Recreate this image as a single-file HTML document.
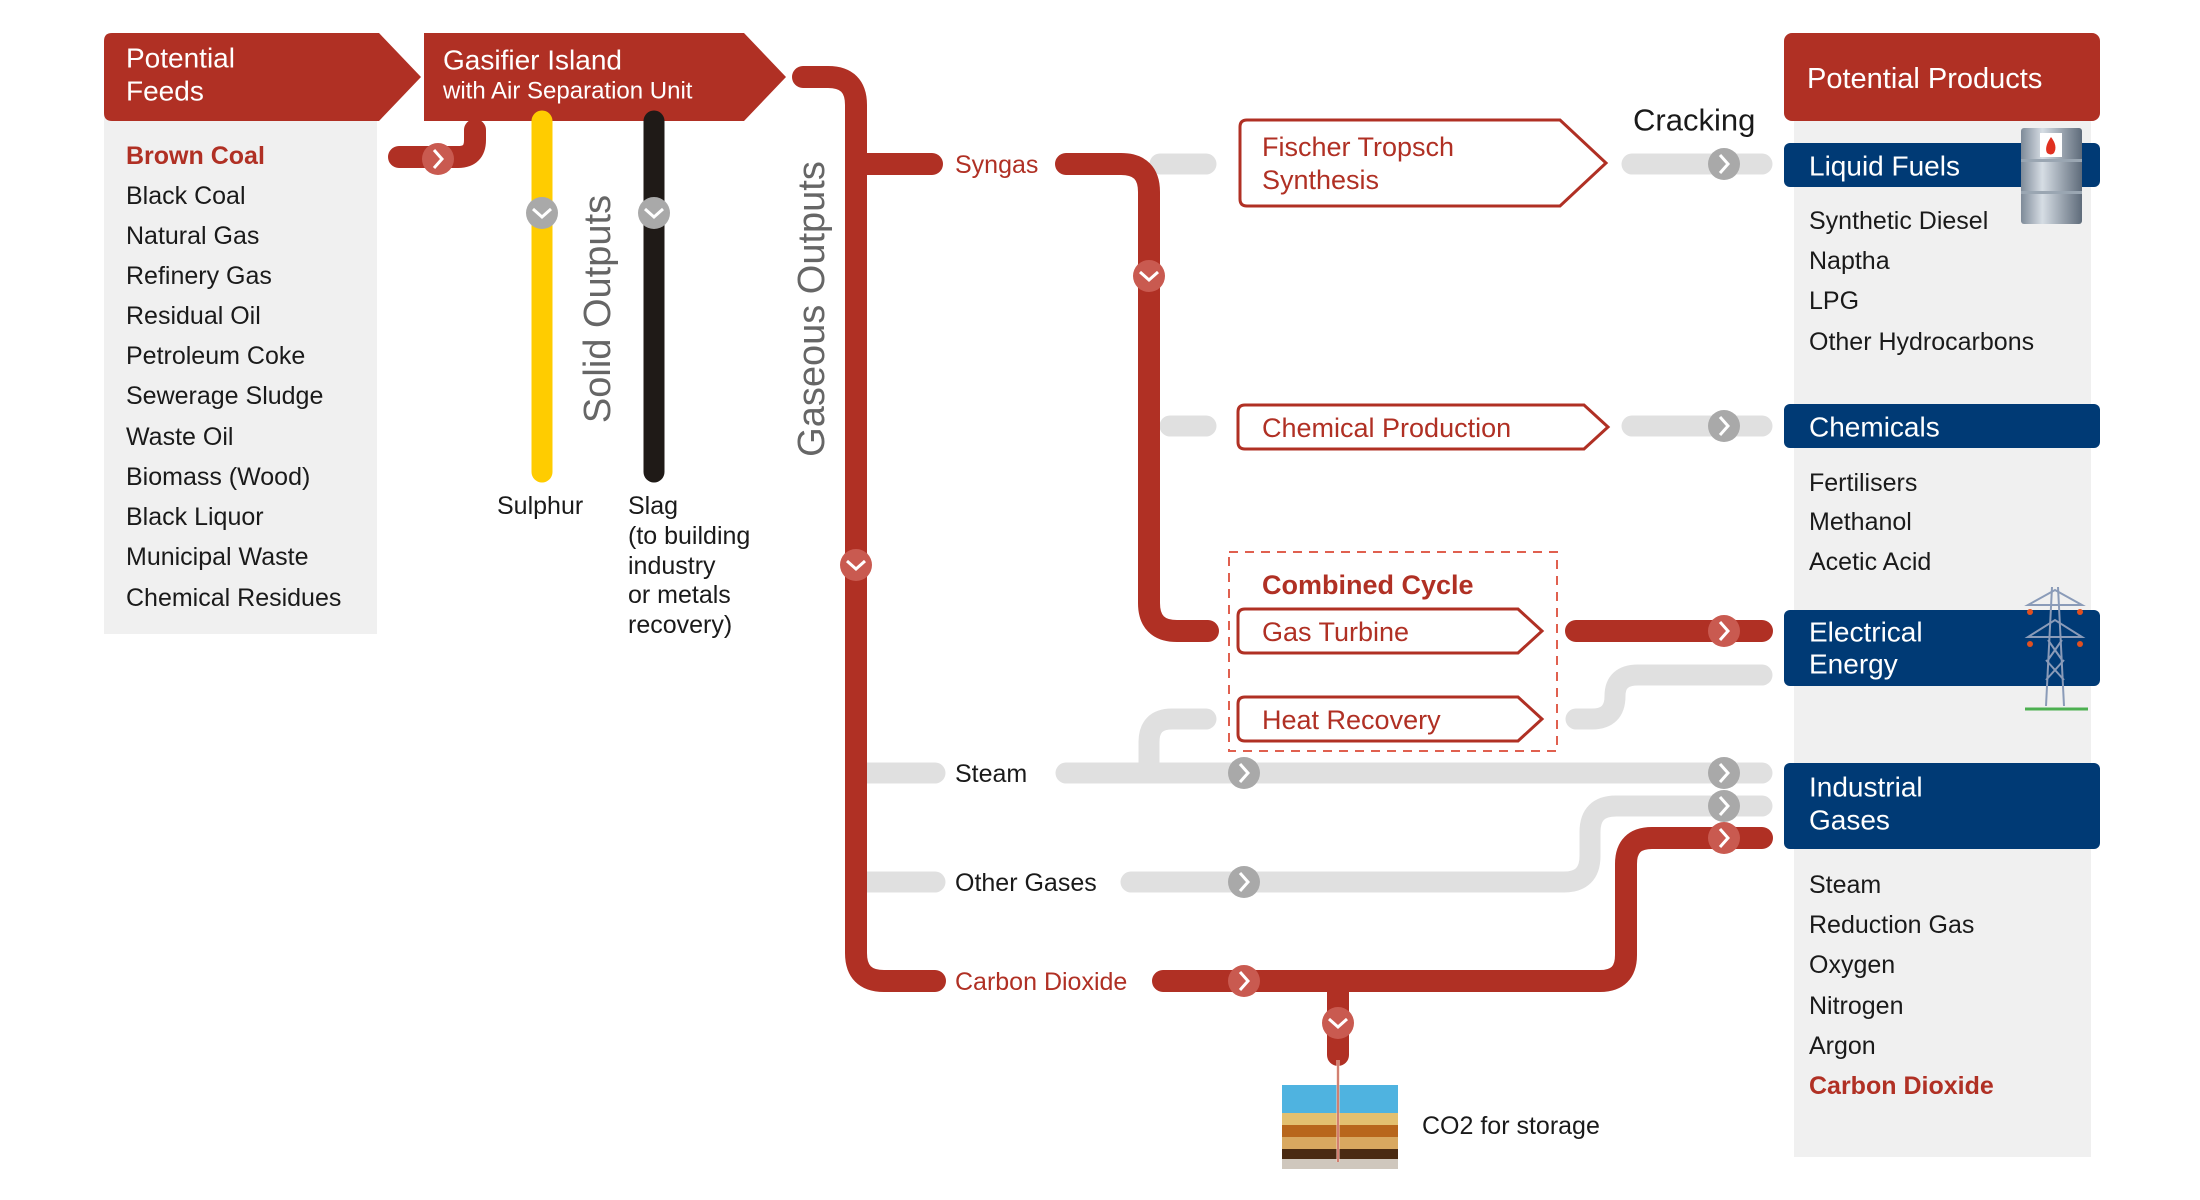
<!DOCTYPE html>
<html><head><meta charset="utf-8"><style>
html,body{margin:0;padding:0;background:#fff}
svg{display:block}
text{font-family:"Liberation Sans",sans-serif;dominant-baseline:central}
</style></head><body>
<svg width="2200" height="1200" viewBox="0 0 2200 1200" xmlns="http://www.w3.org/2000/svg">
<defs>
<linearGradient id="barrel" x1="0" x2="1" y1="0" y2="0">
<stop offset="0" stop-color="#7e8a98"/><stop offset="0.35" stop-color="#d6dde4"/><stop offset="1" stop-color="#5e6b7a"/>
</linearGradient>
<g id="mr"><circle r="16" fill="#c95a50"/><path d="M-4,-9 L4,0 L-4,9" fill="none" stroke="#fff" stroke-width="3"/></g>
<g id="mg"><circle r="16" fill="#a9a9a9"/><path d="M-4,-9 L4,0 L-4,9" fill="none" stroke="#fff" stroke-width="3"/></g>
<g id="mrd"><circle r="16" fill="#c95a50"/><path d="M-9,-4 L0,4 L9,-4" fill="none" stroke="#fff" stroke-width="3"/></g>
<g id="mgd"><circle r="16" fill="#a9a9a9"/><path d="M-9,-4 L0,4 L9,-4" fill="none" stroke="#fff" stroke-width="3"/></g>
</defs>

<!-- panels -->
<rect x="104" y="115" width="273" height="519" fill="#f0f0f0"/>
<rect x="1794" y="115" width="297" height="1042" fill="#f0f0f0"/>

<!-- headers -->
<path d="M112,33 H379 L421,77 L379,121 H112 Q104,121 104,113 V41 Q104,33 112,33 Z" fill="#b03024"/>
<text x="126" y="58" font-size="28" fill="#fff">Potential</text>
<text x="126" y="91" font-size="28" fill="#fff">Feeds</text>
<path d="M424,33 H744 L786,77 L744,121 H424 Z" fill="#b03024"/>
<text x="443" y="60" font-size="28" fill="#fff">Gasifier Island</text>
<text x="443" y="91" font-size="24" fill="#fff">with Air Separation Unit</text>
<rect x="1784" y="33" width="316" height="88" rx="8" fill="#b03024"/>
<text x="1807" y="79" font-size="29" fill="#fff">Potential Products</text>

<!-- feeds -->
<g font-size="25" fill="#1a1a1a">
<text x="126" y="156" fill="#b03024" font-weight="bold">Brown Coal</text>
<text x="126" y="196">Black Coal</text>
<text x="126" y="236">Natural Gas</text>
<text x="126" y="276">Refinery Gas</text>
<text x="126" y="316">Residual Oil</text>
<text x="126" y="356">Petroleum Coke</text>
<text x="126" y="396">Sewerage Sludge</text>
<text x="126" y="437">Waste Oil</text>
<text x="126" y="477">Biomass (Wood)</text>
<text x="126" y="517">Black Liquor</text>
<text x="126" y="557">Municipal Waste</text>
<text x="126" y="598">Chemical Residues</text>
</g>

<!-- brown coal pipe -->
<path d="M399,157 H458 Q475,157 475,140 V130" fill="none" stroke="#b03024" stroke-width="22" stroke-linecap="round"/>
<use href="#mr" x="438" y="159"/>

<!-- solid outputs -->
<path d="M542,121 V472" stroke="#ffcc00" stroke-width="21" stroke-linecap="round"/>
<path d="M654,121 V472" stroke="#1f1a17" stroke-width="21" stroke-linecap="round"/>
<use href="#mgd" x="542" y="213"/>
<use href="#mgd" x="654" y="213"/>
<text transform="translate(598,309) rotate(-90)" text-anchor="middle" font-size="38" fill="#666">Solid Outputs</text>
<text transform="translate(812,309) rotate(-90)" text-anchor="middle" font-size="38" fill="#666">Gaseous Outputs</text>
<text x="497" y="506" font-size="25" fill="#1a1a1a">Sulphur</text>
<g font-size="25" fill="#1a1a1a">
<text x="628" y="506">Slag</text>
<text x="628" y="536">(to building</text>
<text x="628" y="566">industry</text>
<text x="628" y="595">or metals</text>
<text x="628" y="625">recovery)</text>
</g>

<!-- gray pipes -->
<g fill="none" stroke="#e0e0e0" stroke-width="21" stroke-linecap="round">
<path d="M866,773 H935"/>
<path d="M866,882 H935"/>
<path d="M1160,164 H1206"/>
<path d="M1170,426 H1206"/>
<path d="M1632,164 H1762"/>
<path d="M1632,426 H1762"/>
<path d="M1576,719 H1592 Q1615,719 1615,696 Q1615,675 1638,675 H1762"/>
<path d="M1066,773 H1762"/>
<path d="M1149,773 V742 Q1149,719 1172,719 H1206"/>
<path d="M1131,882 H1564 Q1590,882 1590,856 V832 Q1590,806 1616,806 H1762"/>
</g>

<!-- red pipes -->
<g fill="none" stroke="#b03024" stroke-width="22" stroke-linecap="round">
<path d="M803,77 H828 Q856,77 856,105 V953 Q856,981 884,981 H935"/>
<path d="M856,164 H932"/>
<path d="M1066,164 H1121 Q1149,164 1149,192 V603 Q1149,631 1177,631 H1208"/>
<path d="M1576,631 H1762"/>
<path d="M1163,981 H1600 Q1626,981 1626,955 V864 Q1626,838 1652,838 H1762"/>
<path d="M1338,981 V1055"/>
</g>

<!-- markers -->
<use href="#mrd" x="856" y="565"/>
<use href="#mrd" x="1149" y="276"/>
<use href="#mg" x="1724" y="164"/>
<use href="#mg" x="1724" y="426"/>
<use href="#mr" x="1724" y="631"/>
<use href="#mg" x="1244" y="773"/>
<use href="#mg" x="1724" y="773"/>
<use href="#mg" x="1244" y="882"/>
<use href="#mg" x="1724" y="806"/>
<use href="#mr" x="1724" y="838"/>
<use href="#mr" x="1244" y="981"/>
<use href="#mrd" x="1338" y="1023"/>

<!-- gas labels -->
<text x="955" y="165" font-size="25" fill="#b03024">Syngas</text>
<text x="955" y="774" font-size="25" fill="#1a1a1a">Steam</text>
<text x="955" y="883" font-size="25" fill="#1a1a1a">Other Gases</text>
<text x="955" y="982" font-size="25" fill="#b03024">Carbon Dioxide</text>

<!-- process boxes -->
<g fill="#fff" stroke="#b03024" stroke-width="3">
<path d="M1247,120 H1560 L1606,163 L1560,206 H1247 Q1240,206 1240,199 V127 Q1240,120 1247,120 Z"/>
<path d="M1245,405 H1584 L1608,427 L1584,449 H1245 Q1238,449 1238,442 V412 Q1238,405 1245,405 Z"/>
<path d="M1245,609 H1518 L1542,631 L1518,653 H1245 Q1238,653 1238,646 V616 Q1238,609 1245,609 Z"/>
<path d="M1245,697 H1518 L1542,719 L1518,741 H1245 Q1238,741 1238,734 V704 Q1238,697 1245,697 Z"/>
</g>
<rect x="1229" y="552" width="328" height="199" fill="none" stroke="#e0604f" stroke-width="2" stroke-dasharray="9,7"/>
<g font-size="27" fill="#b03024">
<text x="1262" y="147">Fischer Tropsch</text>
<text x="1262" y="180">Synthesis</text>
<text x="1262" y="428">Chemical Production</text>
<text x="1262" y="585" font-weight="bold">Combined Cycle</text>
<text x="1262" y="632">Gas Turbine</text>
<text x="1262" y="720">Heat Recovery</text>
</g>
<text x="1633" y="120" font-size="31" fill="#1a1a1a">Cracking</text>

<!-- product bars -->
<rect x="1784" y="143" width="316" height="44" rx="6" fill="#003a75"/>
<text x="1809" y="166" font-size="28" fill="#fff">Liquid Fuels</text>
<rect x="1784" y="404" width="316" height="44" rx="6" fill="#003a75"/>
<text x="1809" y="427" font-size="28" fill="#fff">Chemicals</text>
<rect x="1784" y="610" width="316" height="76" rx="6" fill="#003a75"/>
<text x="1809" y="632" font-size="28" fill="#fff">Electrical</text>
<text x="1809" y="664" font-size="28" fill="#fff">Energy</text>
<rect x="1784" y="763" width="316" height="86" rx="6" fill="#003a75"/>
<text x="1809" y="787" font-size="28" fill="#fff">Industrial</text>
<text x="1809" y="820" font-size="28" fill="#fff">Gases</text>

<g font-size="25" fill="#1a1a1a">
<text x="1809" y="221">Synthetic Diesel</text>
<text x="1809" y="261">Naptha</text>
<text x="1809" y="301">LPG</text>
<text x="1809" y="342">Other Hydrocarbons</text>
<text x="1809" y="483">Fertilisers</text>
<text x="1809" y="522">Methanol</text>
<text x="1809" y="562">Acetic Acid</text>
<text x="1809" y="885">Steam</text>
<text x="1809" y="925">Reduction Gas</text>
<text x="1809" y="965">Oxygen</text>
<text x="1809" y="1006">Nitrogen</text>
<text x="1809" y="1046">Argon</text>
<text x="1809" y="1086" fill="#b03024" font-weight="bold">Carbon Dioxide</text>
</g>

<!-- barrel -->
<rect x="2021" y="128" width="61" height="96" rx="3" fill="url(#barrel)"/>
<rect x="2021" y="159" width="61" height="3" fill="#9aa6b2"/>
<rect x="2021" y="191" width="61" height="3" fill="#9aa6b2"/>
<rect x="2040" y="133" width="22" height="24" fill="#fff"/>
<path d="M2051,137 Q2058,146 2054,153 Q2051,156 2047,153 Q2044,147 2051,137 Z" fill="#e03020"/>

<!-- pylon -->
<g stroke="#8a9bb8" stroke-width="2" fill="none">
<path d="M2052,587 L2046,706 M2058,587 L2064,706"/>
<path d="M2028,605 H2082 L2055,590 Z"/>
<path d="M2028,637 H2082 L2055,620 Z"/>
<path d="M2046,660 L2064,680 M2064,660 L2046,680 M2048,640 L2062,660 M2062,640 L2048,660"/>
</g>
<path d="M2025,709 H2088" stroke="#4caf50" stroke-width="3"/>
<circle cx="2030" cy="612" r="3" fill="#e05020"/><circle cx="2080" cy="612" r="3" fill="#e05020"/>
<circle cx="2030" cy="644" r="3" fill="#e05020"/><circle cx="2080" cy="644" r="3" fill="#e05020"/>

<!-- CO2 storage -->
<rect x="1282" y="1085" width="116" height="28" fill="#4fb3e0"/>
<rect x="1282" y="1113" width="116" height="12" fill="#e3c070"/>
<rect x="1282" y="1125" width="116" height="12" fill="#b8661c"/>
<rect x="1282" y="1137" width="116" height="12" fill="#d9a860"/>
<rect x="1282" y="1149" width="116" height="10" fill="#4a2a12"/>
<rect x="1282" y="1159" width="116" height="10" fill="#cfc7bd"/>
<path d="M1338,1060 V1162" stroke="#f4d0c0" stroke-width="3"/>
<path d="M1338,1060 V1162" stroke="#b03024" stroke-width="1"/>
<text x="1422" y="1126" font-size="25" fill="#1a1a1a">CO2 for storage</text>
</svg>
</body></html>
